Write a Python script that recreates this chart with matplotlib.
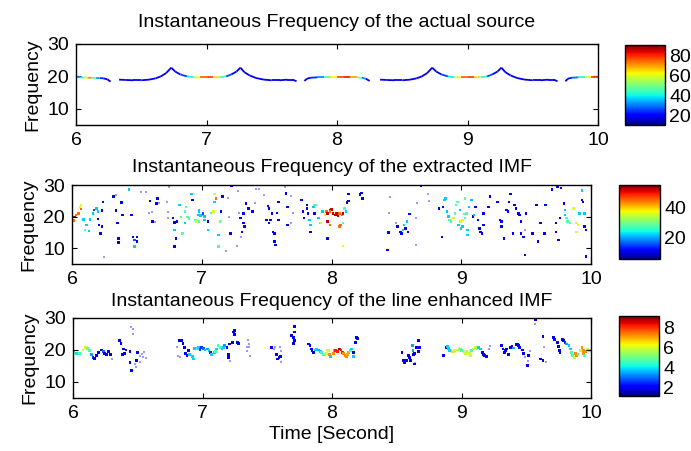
import numpy as np
import matplotlib
matplotlib.use("Agg")
import matplotlib.pyplot as plt
from matplotlib.collections import LineCollection
from matplotlib.colors import Normalize

plt.rcParams['font.family'] = ['Liberation Sans', 'DejaVu Sans']
plt.rcParams['font.size'] = 14

# ---- panel 1: IF of the actual source (segments: time, freq, amplitude)
src_t = [
    [6.00, 6.03, 6.06, 6.09, 6.12, 6.15, 6.18, 6.21, 6.24, 6.265],
    [6.33, 6.38, 6.44, 6.50, 6.56, 6.61, 6.65, 6.69, 6.73, 6.76, 6.80, 6.85, 6.90, 6.95, 7.00,
     7.05, 7.10, 7.15, 7.19, 7.23, 7.26, 7.29, 7.33, 7.38, 7.44, 7.50, 7.56, 7.62, 7.66, 7.69],
    [7.75, 7.77, 7.80, 7.85, 7.90, 7.95, 8.00, 8.05, 8.10, 8.15, 8.19, 8.22, 8.25],
    [8.33, 8.38, 8.44, 8.50, 8.56, 8.61, 8.65, 8.69, 8.73, 8.76, 8.80, 8.85, 8.90, 8.95, 9.00,
     9.05, 9.10, 9.15, 9.19, 9.23, 9.26, 9.29, 9.33, 9.38, 9.44, 9.50, 9.56, 9.62, 9.66, 9.69],
    [9.75, 9.77, 9.80, 9.85, 9.90, 9.95, 10.0],
]
src_f = [
    [19.7, 19.7, 19.65, 19.6, 19.55, 19.5, 19.5, 19.4, 19.1, 18.4],
    [19.0, 18.9, 18.8, 18.8, 19.0, 19.4, 20.0, 21.0, 22.7, 21.5, 20.6, 20.0, 19.75, 19.7, 19.7,
     19.7, 19.75, 20.0, 20.6, 21.5, 22.7, 21.3, 20.3, 19.5, 19.0, 18.8, 18.8, 19.0, 19.0, 18.5],
    [18.6, 19.3, 19.6, 19.7, 19.7, 19.7, 19.7, 19.7, 19.7, 19.7, 19.6, 19.3, 18.6],
    [19.0, 18.9, 18.8, 18.8, 19.0, 19.4, 20.0, 21.0, 22.7, 21.5, 20.6, 20.0, 19.75, 19.7, 19.7,
     19.7, 19.75, 20.0, 20.6, 21.5, 22.7, 21.3, 20.3, 19.5, 19.0, 18.8, 18.8, 19.0, 19.0, 18.5],
    [18.5, 19.3, 19.6, 19.7, 19.7, 19.7, 19.7],
]
src_a = [
    [30, 35, 45, 80, 60, 40, 28, 20, 19, 18],
    [20, 19, 19, 19, 19, 19, 19, 19, 19, 20, 22, 30, 50, 70, 78,
     75, 55, 32, 22, 20, 19, 19, 19, 19, 19, 19, 19, 19, 20, 18],
    [18, 20, 21, 27, 38, 55, 70, 82, 78, 60, 40, 24, 18],
    [20, 19, 19, 19, 19, 19, 19, 19, 19, 20, 22, 30, 50, 70, 78,
     75, 55, 32, 22, 20, 19, 19, 19, 19, 19, 19, 19, 19, 20, 18],
    [18, 20, 24, 35, 50, 70, 85],
]

# ---- panel 2: IF of the extracted IMF (scattered points)
imf_t = [
    6.01, 6.02, 6.03, 6.05, 6.06, 6.07, 6.07, 6.09, 6.10, 6.11,
    6.13, 6.14, 6.16, 6.17, 6.19, 6.20, 6.20, 6.21, 6.23, 6.22,
    6.24, 6.23, 6.32, 6.34, 6.38, 6.39, 6.35, 6.36, 6.36, 6.34,
    6.44, 6.46, 6.47, 6.48, 6.50, 6.48, 6.50, 6.53, 6.57, 6.60,
    6.59, 6.62, 6.64, 6.62, 6.66, 6.67, 6.65, 6.73, 6.74, 6.75,
    6.74, 6.78, 6.79, 6.79, 6.80, 6.79, 6.81, 6.83, 6.84, 6.85,
    6.88, 6.87, 6.87, 6.89, 6.90, 6.92, 6.93, 6.95, 6.96, 6.97,
    6.98, 6.99, 6.98, 7.00, 7.01, 7.02, 7.02, 7.05, 7.05, 6.98,
    7.07, 7.09, 7.10, 7.11, 7.10, 7.14, 7.15, 7.16, 7.13, 7.13,
    7.20, 7.21, 7.22, 7.23, 7.28, 7.29, 7.30, 7.32, 7.32, 7.34,
    7.30, 7.31, 7.33, 7.36, 7.39, 7.41, 7.42, 7.44, 7.48, 7.50,
    7.51, 7.52, 7.52, 7.53, 7.54, 7.55, 7.56, 7.56, 7.57, 7.58,
    7.59, 7.59, 7.64, 7.65, 7.66, 7.66, 7.69, 7.69, 7.70, 7.77,
    7.78, 7.79, 7.81, 7.81, 7.82, 7.83, 7.84, 7.84, 7.86, 7.87,
    7.88, 7.87, 7.90, 7.91, 7.92, 7.93, 7.95, 7.96, 7.97, 7.99,
    7.97, 7.99, 7.97, 8.00, 8.01, 8.03, 8.04, 8.05, 8.06, 8.08,
    8.09, 7.99, 8.06, 8.07, 8.09, 8.10, 8.11, 8.12, 8.13, 8.09,
    8.13, 8.23, 8.22, 8.24, 8.45, 8.44, 8.44, 8.43, 8.50, 8.51,
    8.53, 8.54, 8.55, 8.56, 8.58, 8.57, 8.59, 8.60, 8.65, 8.66,
    8.65, 8.69, 8.74, 8.75, 8.83, 8.85, 8.86, 8.87, 8.88, 8.89,
    8.90, 8.91, 8.92, 8.94, 8.95, 8.96, 8.97, 8.98, 8.99, 9.00,
    9.01, 8.99, 9.02, 9.03, 9.04, 9.03, 9.00, 9.01, 9.05, 9.05,
    9.06, 9.08, 9.09, 9.10, 9.11, 9.13, 9.14, 9.15, 9.16, 9.17,
    9.17, 9.21, 9.22, 9.28, 9.30, 9.31, 9.31, 9.33, 9.35, 9.36,
    9.37, 9.38, 9.40, 9.41, 9.42, 9.44, 9.45, 9.46, 9.46, 9.48,
    9.49, 9.49, 9.50, 9.55, 9.58, 9.59, 9.61, 9.64, 9.65, 9.70,
    9.74, 9.77, 9.76, 9.73, 9.73, 9.75, 9.79, 9.80, 9.80, 9.81,
    9.82, 9.84, 9.86, 9.87, 9.89, 9.90, 9.89, 9.91, 9.93, 9.94,
    9.93, 9.95, 9.96, 9.95, 9.96, 6.25, 7.27, 7.19,
]
imf_f = [
    18.7, 19.8, 20.5, 21.0, 23.1, 23.7, 22.4, 19.1, 15.8, 17.3,
    15.5, 19.1, 21.0, 22.1, 22.6, 21.6, 19.2, 17.3, 16.8, 14.7,
    24.7, 22.0, 26.3, 26.8, 24.4, 20.5, 17.9, 13.1, 11.8, 22.0,
    28.6, 20.5, 13.6, 12.6, 13.6, 10.5, 12.1, 27.9, 27.9, 25.0,
    21.2, 21.6, 18.4, 18.4, 25.8, 24.2, 24.2, 24.7, 21.6, 29.5,
    19.5, 19.5, 18.1, 15.8, 13.1, 10.5, 18.4, 23.7, 19.8, 14.7,
    23.1, 21.6, 17.9, 19.9, 19.4, 27.2, 25.3, 18.9, 18.4, 20.5,
    22.1, 20.3, 21.6, 20.5, 21.0, 20.0, 18.9, 18.4, 15.8, 18.4,
    21.2, 21.6, 27.2, 25.8, 24.7, 18.4, 21.6, 26.3, 10.5, 14.2,
    25.8, 20.0, 14.7, 29.7, 28.2, 21.0, 19.5, 21.0, 17.9, 24.2,
    13.6, 15.2, 16.8, 22.6, 21.6, 24.2, 28.6, 28.7, 26.8, 18.9,
    23.4, 22.6, 17.9, 18.9, 21.0, 15.2, 14.7, 12.1, 11.0, 21.2,
    24.7, 18.9, 29.3, 27.3, 23.1, 17.3, 26.6, 17.9, 21.0, 25.3,
    21.6, 19.5, 23.7, 22.6, 21.0, 18.9, 15.2, 17.3, 23.1, 23.7,
    23.7, 21.0, 19.5, 17.9, 17.9, 21.6, 20.5, 21.6, 21.0, 22.1,
    18.4, 17.3, 13.1, 22.3, 21.0, 20.5, 21.0, 20.2, 21.0, 20.5,
    21.0, 21.6, 16.8, 17.3, 17.9, 22.6, 21.6, 24.4, 25.0, 10.7,
    27.2, 27.5, 27.0, 25.8, 26.3, 21.0, 14.9, 9.4, 17.9, 16.8,
    15.2, 14.7, 15.8, 17.3, 18.4, 16.3, 15.2, 20.8, 19.5, 24.2,
    11.0, 29.8, 27.2, 25.0, 22.6, 13.6, 23.1, 25.3, 25.8, 21.6,
    20.0, 18.9, 18.4, 19.5, 21.0, 23.7, 24.7, 17.3, 18.4, 16.3,
    18.9, 22.1, 20.8, 25.8, 21.0, 19.5, 18.4, 16.8, 15.8, 14.2,
    23.1, 25.3, 20.0, 20.5, 23.1, 18.9, 16.3, 15.2, 14.7, 21.0,
    17.3, 23.1, 26.3, 24.7, 18.9, 18.4, 16.8, 13.1, 22.1, 21.6,
    24.7, 27.2, 14.7, 23.7, 22.6, 21.0, 20.5, 18.4, 14.7, 13.6,
    7.8, 15.8, 21.0, 14.7, 23.7, 12.1, 17.9, 14.7, 23.7, 28.6,
    29.5, 29.0, 19.5, 17.9, 15.2, 12.6, 24.2, 22.1, 20.5, 19.5,
    18.4, 17.9, 22.6, 22.6, 17.9, 17.3, 15.2, 21.0, 25.3, 24.7,
    28.2, 16.8, 15.8, 21.0, 7.3, 7.1, 10.8, 9.0,
]
imf_a = [
    45, 52, 45, 45, 36, 36, 45, 22, 28, 22,
    22, 22, 22, 16, 22, 22, 11, 11, 11, 11,
    11, 11, 11, 8, 11, 11, 11, 11, 11, 11,
    22, 11, 11, 16, 11, 22, 11, 8, 8, 11,
    8, 8, 8, 11, 11, 8, 11, 8, 8, 8,
    8, 11, 11, 22, 11, 11, 11, 22, 28, 28,
    28, 28, 22, 28, 28, 22, 11, 28, 36, 22,
    22, 22, 22, 22, 16, 22, 22, 11, 22, 28,
    28, 36, 36, 45, 22, 28, 11, 11, 28, 22,
    8, 8, 11, 11, 8, 8, 11, 11, 11, 11,
    8, 11, 11, 11, 11, 8, 8, 8, 8, 11,
    11, 11, 11, 11, 11, 11, 11, 11, 11, 11,
    11, 11, 8, 11, 11, 11, 8, 8, 8, 11,
    11, 11, 11, 11, 11, 22, 11, 22, 22, 28,
    28, 11, 22, 28, 36, 22, 36, 45, 52, 52,
    52, 45, 11, 52, 52, 52, 52, 52, 45, 45,
    52, 45, 45, 45, 28, 28, 22, 11, 11, 36,
    11, 11, 11, 11, 8, 8, 11, 11, 8, 11,
    11, 11, 22, 22, 22, 11, 11, 11, 8, 8,
    8, 11, 8, 8, 11, 11, 11, 22, 22, 22,
    22, 28, 28, 36, 28, 28, 28, 22, 28, 22,
    36, 22, 28, 28, 28, 28, 36, 22, 22, 22,
    22, 22, 11, 22, 11, 11, 11, 11, 11, 11,
    11, 11, 11, 11, 11, 11, 11, 11, 11, 11,
    11, 11, 11, 11, 11, 11, 11, 11, 11, 11,
    11, 8, 11, 11, 11, 11, 11, 11, 11, 11,
    11, 11, 11, 11, 11, 11, 11, 22, 22, 28,
    28, 28, 36, 36, 36, 36, 36, 22, 11, 11,
    22, 11, 11, 22, 11, 8, 8, 8,
]

# ---- panel 3: IF of the line enhanced IMF
enh_t = [
    6.008, 6.026, 6.052, 6.078, 6.096, 6.111, 6.129, 6.142, 6.155, 6.168,
    6.181, 6.199, 6.220, 6.233, 6.245, 6.258, 6.276, 6.290, 6.300, 6.36,
    6.37, 6.39, 6.40, 6.41, 6.38, 6.44, 6.45, 6.46, 6.46, 6.44,
    6.45, 6.48, 6.49, 6.50, 6.52, 6.53, 6.54, 6.55, 6.52, 6.49,
    6.56, 6.80, 6.81, 6.82, 6.84, 6.85, 6.86, 6.87, 6.83, 6.88,
    6.89, 6.90, 6.92, 6.93, 6.94, 6.96, 6.97, 6.98, 6.99, 7.01,
    7.02, 7.04, 7.05, 7.06, 7.07, 7.09, 7.10, 7.11, 7.12, 7.14,
    7.15, 7.16, 7.17, 7.19, 7.20, 7.20, 7.21, 7.21, 7.23, 7.24,
    7.25, 7.25, 7.27, 7.28, 7.36, 7.35, 7.36, 7.34, 7.345, 7.37,
    7.53, 7.55, 7.56, 7.57, 7.59, 7.58, 7.60, 7.60, 7.61, 7.61,
    7.69, 7.70, 7.71, 7.71, 7.71, 7.70, 7.82, 7.83, 7.84, 7.845,
    7.86, 7.87, 7.88, 7.895, 7.91, 7.92, 7.93, 7.945, 7.96, 7.965,
    7.97, 7.98, 7.99, 8.01, 8.02, 8.03, 8.04, 8.06, 8.07, 8.08,
    8.09, 8.10, 8.11, 8.12, 8.13, 8.14, 8.15, 8.165, 8.165, 8.18,
    8.19, 8.195, 8.54, 8.55, 8.56, 8.575, 8.59, 8.60, 8.605, 8.62,
    8.625, 8.63, 8.64, 8.655, 8.67, 8.675, 8.64, 8.66, 8.665, 8.64,
    8.86, 8.88, 8.89, 8.90, 8.91, 8.93, 8.94, 8.95, 8.97, 8.98,
    8.99, 9.00, 9.02, 9.03, 9.04, 9.06, 9.07, 9.08, 9.09, 9.11,
    9.12, 9.13, 9.145, 9.16, 9.17, 9.18, 9.195, 9.21, 9.22, 9.31,
    9.32, 9.33, 9.34, 9.35, 9.365, 9.38, 9.39, 9.40, 9.42, 9.43,
    9.44, 9.45, 9.47, 9.48, 9.49, 9.51, 9.51, 9.52, 9.53, 9.57,
    9.57, 9.61, 9.63, 9.635, 9.65, 9.63, 9.71, 9.72, 9.74, 9.75,
    9.755, 9.76, 9.78, 9.79, 9.80, 9.81, 9.83, 9.84, 9.85, 9.86,
    9.87, 9.88, 9.89, 9.90, 9.92, 9.93, 9.94, 9.945, 9.95, 9.96,
    9.97, 9.99,
]
enh_f = [
    19.3, 19.0, 19.0, 20.0, 20.8, 20.5, 19.8, 18.7, 17.7, 17.4,
    18.2, 19.3, 20.0, 19.6, 18.9, 18.7, 19.6, 18.5, 17.2, 23.0,
    22.0, 20.3, 18.9, 20.0, 18.7, 19.6, 27.2, 26.6, 25.1, 16.1,
    13.5, 15.6, 16.6, 19.3, 18.2, 18.7, 17.7, 19.3, 16.1, 14.6,
    17.4, 20.8, 18.2, 22.9, 22.9, 22.0, 20.8, 18.9, 17.7, 18.2,
    19.8, 18.7, 17.9, 17.2, 20.5, 20.5, 20.8, 20.2, 20.8, 20.4,
    20.0, 20.3, 19.8, 19.3, 18.7, 19.3, 19.6, 20.3, 21.4, 20.8,
    20.3, 20.8, 21.4, 20.8, 18.7, 17.7, 16.6, 21.9, 22.4, 25.6,
    26.1, 24.8, 22.4, 22.1, 20.8, 23.2, 21.9, 19.8, 20.8, 18.2,
    20.8, 20.3, 20.8, 18.7, 17.7, 17.2, 17.9, 20.8, 16.1, 19.8,
    24.5, 24.0, 25.6, 27.4, 23.0, 22.1, 21.9, 21.4, 20.3, 19.8,
    19.3, 20.0, 20.3, 20.0, 19.6, 19.3, 18.7, 18.5, 19.0, 20.0,
    19.8, 18.7, 17.9, 18.9, 19.8, 19.8, 19.6, 20.3, 20.0, 19.3,
    18.9, 18.2, 17.9, 18.7, 19.3, 19.8, 20.3, 19.3, 17.9, 22.4,
    24.0, 23.5, 19.3, 16.6, 16.1, 16.6, 18.2, 17.7, 16.6, 21.4,
    19.8, 18.7, 15.6, 20.8, 22.9, 20.8, 19.0, 20.8, 19.5, 15.8,
    18.2, 20.8, 21.0, 20.4, 19.8, 19.6, 19.5, 19.8, 20.0, 20.6,
    20.3, 19.8, 19.3, 19.0, 19.6, 19.0, 18.2, 19.8, 20.3, 20.8,
    20.3, 20.8, 20.3, 19.3, 18.7, 18.2, 18.0, 20.3, 21.4, 21.4,
    20.3, 19.3, 19.8, 20.3, 18.7, 20.8, 21.0, 20.6, 21.7, 21.9,
    21.4, 20.8, 20.0, 18.9, 17.7, 16.6, 15.1, 18.2, 19.8, 29.5,
    28.2, 17.2, 24.2, 20.8, 16.1, 16.6, 23.8, 23.2, 22.4, 21.1,
    19.8, 19.3, 23.2, 22.9, 22.4, 21.9, 21.4, 20.3, 19.3, 18.2,
    17.7, 18.9, 18.2, 18.7, 19.8, 20.8, 19.8, 18.9, 18.2, 19.5,
    20.3, 19.8,
]
enh_a = [
    4.6, 4.0, 4.6, 5.8, 5.8, 5.0, 4.6, 3.5, 2.5, 2.0,
    2.0, 2.0, 2.0, 3.0, 2.0, 2.0, 2.0, 1.8, 1.5, 2.0,
    2.0, 2.0, 2.0, 2.0, 2.0, 2.0, 1.5, 1.5, 1.5, 2.0,
    2.0, 1.5, 2.0, 2.0, 1.5, 1.5, 1.5, 1.5, 1.5, 1.5,
    1.5, 1.5, 1.5, 2.0, 2.0, 2.0, 2.0, 2.0, 1.5, 2.0,
    2.0, 3.8, 3.8, 3.8, 3.8, 4.4, 3.8, 2.5, 2.5, 3.0,
    3.8, 3.5, 3.8, 2.5, 3.8, 3.8, 4.6, 3.8, 4.6, 4.6,
    3.8, 3.8, 3.5, 2.0, 2.0, 2.0, 1.5, 2.0, 2.0, 2.0,
    2.0, 2.0, 2.0, 2.0, 1.5, 1.5, 1.5, 1.5, 1.5, 1.5,
    2.0, 1.5, 1.5, 2.0, 2.0, 2.0, 2.0, 1.5, 1.5, 1.5,
    2.0, 2.0, 2.0, 2.0, 2.0, 2.0, 2.0, 2.0, 2.0, 2.0,
    2.0, 3.8, 3.8, 3.5, 3.8, 4.6, 4.6, 5.0, 5.8, 5.8,
    6.0, 7.2, 3.8, 7.2, 7.2, 8.2, 8.2, 8.8, 8.2, 8.2,
    7.2, 7.2, 7.2, 7.0, 7.0, 4.6, 3.8, 2.0, 3.8, 2.0,
    2.0, 2.0, 2.0, 2.0, 2.0, 2.0, 2.0, 2.0, 2.0, 3.5,
    3.5, 2.0, 2.0, 2.0, 2.0, 2.0, 2.0, 2.0, 2.0, 1.5,
    2.0, 2.0, 3.8, 3.8, 3.8, 4.6, 5.8, 5.8, 5.8, 5.8,
    4.6, 4.6, 5.8, 5.8, 5.8, 5.8, 5.8, 4.6, 5.8, 5.8,
    5.8, 3.8, 3.8, 2.0, 2.0, 2.0, 2.0, 1.5, 1.5, 2.0,
    2.0, 2.0, 2.0, 2.0, 2.0, 2.0, 2.0, 3.5, 2.0, 2.0,
    2.0, 2.0, 2.0, 2.0, 1.5, 1.5, 2.0, 2.0, 1.5, 2.0,
    1.5, 2.0, 2.0, 1.5, 1.5, 2.0, 2.0, 2.0, 2.0, 2.0,
    2.0, 2.0, 2.0, 2.0, 2.5, 3.5, 3.8, 3.8, 4.6, 4.6,
    5.8, 7.2, 7.2, 4.6, 5.8, 7.2, 7.2, 7.2, 4.6, 7.2,
    5.8, 6.5,
]

titles = ["Instantaneous Frequency of the actual source",
          "Instantaneous Frequency of the extracted IMF",
          "Instantaneous Frequency of the line enhanced IMF"]
cb_ranges = [(11, 90), (6, 55), (1.2, 9.1)]
cb_ticks = [[20, 40, 60, 80], [20, 40], [2, 4, 6, 8]]
faint_below = [None, 10, 1.6]   # weak points look washed out in the original

W, H = 691, 451
fig = plt.figure(figsize=(W / 100, H / 100), dpi=100)


def box(l, t, w, h):
    return [l / W, 1 - (t + h) / H, w / W, h / H]


ax_boxes = [box(76, 44, 522, 81), box(72, 185, 519, 79), box(73, 318, 518, 80)]
cb_boxes = [box(625, 45, 40, 80), box(619, 185, 41, 74), box(619, 316, 40, 80)]

cmap = plt.get_cmap('jet')
axes = [fig.add_axes(b) for b in ax_boxes]
caxes = [fig.add_axes(b) for b in cb_boxes]

# panel 1 as coloured line segments
norm1 = Normalize(*cb_ranges[0])
segs, cols = [], []
for ts, fs, am in zip(src_t, src_f, src_a):
    pts = np.column_stack([ts, fs])
    for k in range(len(ts) - 1):
        segs.append(pts[k:k + 2])
        cols.append((am[k] + am[k + 1]) / 2)
lc = LineCollection(segs, cmap=cmap, norm=norm1, linewidths=1.3)
lc.set_array(np.array(cols))
axes[0].add_collection(lc)
mappables = [lc]


def scatter_if(ax, t, f, a, rng, lim, size):
    t, f, a = np.asarray(t), np.asarray(f), np.asarray(a)
    weak = a < lim
    # weak points: drawn in blue but washed out
    ax.scatter(t[weak], f[weak], color=cmap(0.11), alpha=0.4, s=size,
               marker='s', linewidths=0)
    return ax.scatter(t[~weak], f[~weak], c=a[~weak], cmap=cmap, vmin=rng[0],
                      vmax=rng[1], s=size, marker='s', linewidths=0)


mappables.append(scatter_if(axes[1], imf_t, imf_f, imf_a, cb_ranges[1], faint_below[1], 3.2))
mappables.append(scatter_if(axes[2], enh_t, enh_f, enh_a, cb_ranges[2], faint_below[2], 4))

for i, (ax, title) in enumerate(zip(axes, titles)):
    ax.set_xlim(6, 10)
    ax.set_ylim(5, 30)
    ax.set_xticks([6, 7, 8, 9, 10])
    ax.set_yticks([10, 20, 30])
    ax.set_title(title, fontsize=14, pad=12 if i == 0 else 9)
    ax.set_ylabel("Frequency", labelpad=4)
    ax.tick_params(direction='in', top=True, right=True, length=3.5, width=0.8,
                   labelsize=14, pad=5)
    for sp in ax.spines.values():
        sp.set_linewidth(1.0)
axes[2].set_xlabel("Time [Second]", labelpad=3)

for cax, m, ticks in zip(caxes, mappables, cb_ticks):
    cb = fig.colorbar(m, cax=cax)
    cb.set_ticks(ticks)
    cb.ax.tick_params(length=0, labelsize=14, pad=3)
    cb.outline.set_linewidth(1.0)

fig.savefig("out.png", dpi=100)
